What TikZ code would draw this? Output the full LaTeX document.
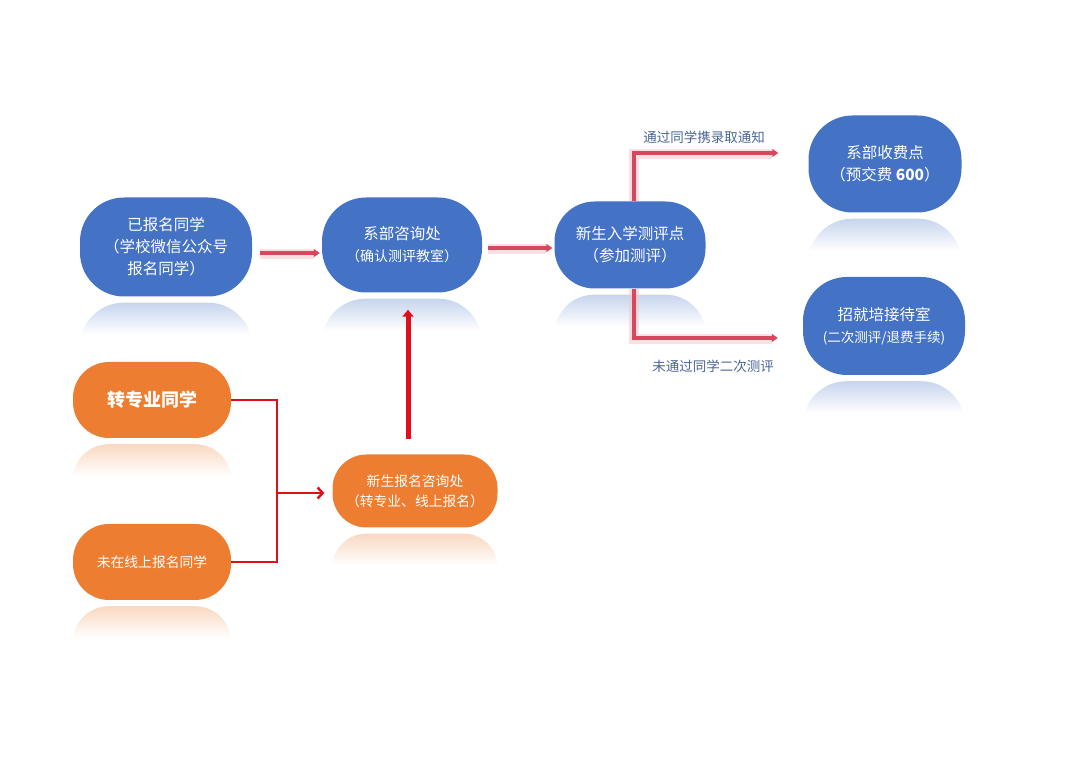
\documentclass[tikz,border=0pt]{standalone}
\usepackage{fontspec}
\setmainfont{Noto Sans CJK SC}
\usetikzlibrary{arrows.meta,calc}
\definecolor{nblue}{HTML}{4472C4}
\definecolor{norange}{HTML}{ED7D31}
\definecolor{apink}{HTML}{D8475C}
\definecolor{aglow}{HTML}{F6C3CA}
\definecolor{ared}{HTML}{E0101A}
\definecolor{lbl}{HTML}{4A6696}
\newcommand\mirrorshape[3]{%
  \begin{scope}
    \clip ($(#1.south west)+(0,-6)$) rectangle ($(#1.south east)+(0,-38)$);
    \clip[rounded corners=#3] ($(#1.south west)+(0,-6)$) rectangle ($(#1.south east)+(0,-110)$);
    \shade[top color=#2!30, bottom color=white] ($(#1.south west)+(0,-6)$) rectangle ($(#1.south east)+(0,-38)$);
  \end{scope}}
\tikzset{
  bluebox/.style={fill=nblue, text=white, rounded corners=44pt, align=center, inner sep=0pt, font=\fontsize{15.5}{22}\selectfont},
  orbox/.style={fill=norange, text=white, rounded corners=36pt, align=center, inner sep=0pt, font=\fontsize{13.8}{20}\selectfont},
  glow/.style={draw=aglow, line width=10pt, opacity=0.5},
  flow/.style={draw=apink, line width=3.5pt, -{Triangle[length=6pt,width=8pt]}},
  redline/.style={draw=ared, line width=2.2pt},
  lab/.style={text=lbl, font=\fontsize{13.5}{15}\selectfont}
}
\begin{document}
\begin{tikzpicture}[x=1pt,y=1pt]
\useasboundingbox[fill=white] (0,0) rectangle (1080,764);
% nodes
\node[bluebox, minimum width=172pt, minimum height=99pt] (n1) at (166,517) {已报名同学\\（学校微信公众号\\报名同学）};
\node[bluebox, minimum width=160pt, minimum height=95pt] (n2) at (402,519) {系部咨询处\\{\fontsize{14}{21}\selectfont（确认测评教室）}};
\node[bluebox, minimum width=151pt, minimum height=87pt, rounded corners=40pt] (n3) at (630,519) {新生入学测评点\\（参加测评）};
\node[bluebox, minimum width=153pt, minimum height=97pt] (n4) at (885,600) {系部收费点\\（预交费 \textbf{600}）};
\node[bluebox, minimum width=162pt, minimum height=98pt] (n5) at (884,438) {招就培接待室\\{\fontsize{13.5}{21}\selectfont(二次测评/退费手续)}};
\node[orbox, minimum width=158pt, minimum height=76pt, font=\fontsize{18}{20}\bfseries] (n6) at (152,364) {转专业同学};
\node[orbox, minimum width=158pt, minimum height=76pt] (n7) at (152,202) {未在线上报名同学};
\node[orbox, minimum width=165pt, minimum height=73pt, rounded corners=34pt] (n8) at (415,273) {新生报名咨询处\\（转专业、线上报名）};
% reflections
\mirrorshape{n1}{nblue}{44pt}
\mirrorshape{n2}{nblue}{44pt}
\mirrorshape{n3}{nblue}{40pt}
\mirrorshape{n4}{nblue}{44pt}
\mirrorshape{n5}{nblue}{44pt}
\mirrorshape{n6}{norange}{36pt}
\mirrorshape{n7}{norange}{36pt}
\mirrorshape{n8}{norange}{34pt}
% connectors with glow
\coordinate (a1s) at ($(n1.east)+(8,-6)$);
\coordinate (a1e) at ($(n2.west)+(-2,-8)$);
\coordinate (a2s) at ($(n2.east)+(6,-3)$);
\coordinate (a2e) at ($(n3.west)+(-2,-3)$);
\coordinate (a3s) at ($(n3.north)+(4,0)$);
\coordinate (a3e) at ($(n4.west)+(-30,11)$);
\coordinate (a4s) at ($(n3.south)+(4,0)$);
\coordinate (a4e) at ($(n5.west)+(-25,-12)$);
\draw[glow] ($(a1s)+(0,-1.5)$) -- ($(a1e)+(-6,-1.5)$);
\draw[glow] ($(a2s)+(0,-1.5)$) -- ($(a2e)+(-6,-1.5)$);
\draw[glow] ($(a3s)+(0,0)$) |- ($(a3e)+(-6,-1.5)$);
\draw[glow] ($(a4s)+(0,0)$) |- ($(a4e)+(-6,-1.5)$);
\draw[flow] (a1s) -- (a1e);
\draw[flow] (a2s) -- (a2e);
\draw[flow] (a3s) |- (a3e);
\draw[flow] (a4s) |- (a4e);
\node[lab] (l1) at (704,627) {通过同学携录取通知};
\node[lab] (l2) at (713,398) {未通过同学二次测评};
% bracket
\coordinate (bj) at ($(n6.east)+(46,0)$);
\draw[redline] (n6.east) -- (bj) -- (bj |- n7.east) -- (n7.east);
\draw[redline, line width=2.5pt, -{Straight Barb[length=5pt,width=11pt]}] (bj |- 0,271) -- ($(n8.west)+(-8,-2)$);
% up arrow
\draw[draw=ared, line width=5pt, -{Triangle[length=7pt,width=11pt]}] ($(n8.north)+(-7,15)$) -- ($(n2.south)+(6,-17)$);
\end{tikzpicture}
\end{document}
